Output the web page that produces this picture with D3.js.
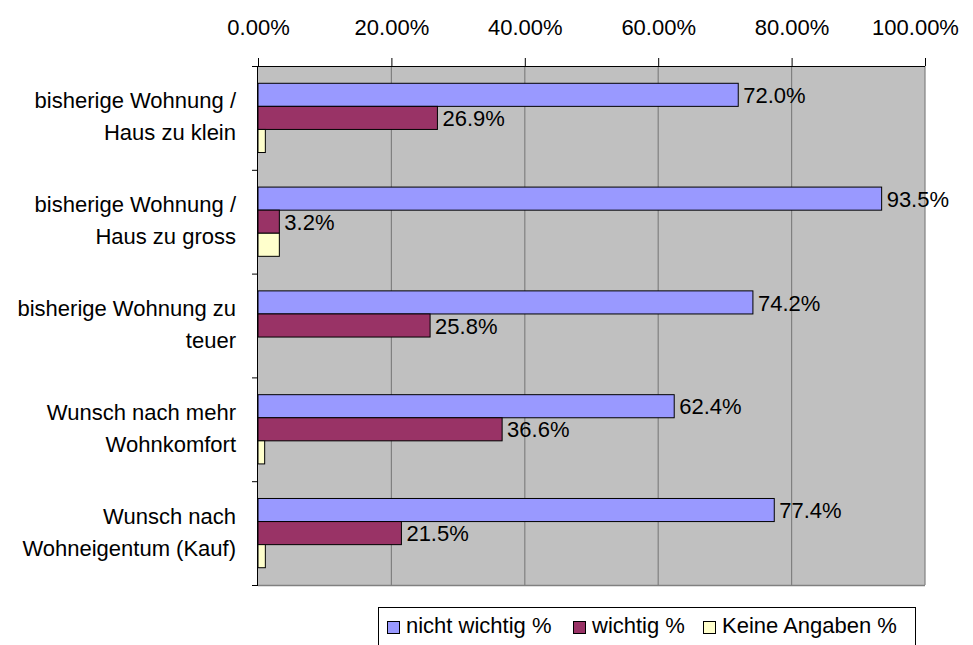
<!DOCTYPE html>
<html><head><meta charset="utf-8">
<script src="https://cdn.jsdelivr.net/npm/d3@7"></script>
<style>body{margin:0;background:#fff}svg{display:block}text{font-family:"Liberation Sans",Arial,sans-serif;fill:#000}</style>
</head><body>
<svg id="c" width="973" height="645"></svg>
<script>
const categories = [
  ["bisherige Wohnung /","Haus zu klein"],
  ["bisherige Wohnung /","Haus zu gross"],
  ["bisherige Wohnung zu","teuer"],
  ["Wunsch nach mehr","Wohnkomfort"],
  ["Wunsch nach","Wohneigentum (Kauf)"]
];
const seriesNames = ["nicht wichtig %","wichtig %","Keine Angaben %"];
const nichtWichtig = [72.0, 93.5, 74.2, 62.4, 77.4];
const wichtig = [26.9, 3.2, 25.8, 36.6, 21.5];
const keineAngaben = [1.1, 3.2, 0.0, 1.0, 1.1];
const tickValues = [0, 20, 40, 60, 80, 100];
const colors = ["#9999FF","#993366","#FFFFCC"];

const FS = 22;
const svg = d3.select("#c");
const L = 258, R = 925, T = 66, B = 585;
const x = d3.scaleLinear().domain([0,100]).range([L,R]);
const y = d3.scaleBand().domain(d3.range(categories.length)).range([T,B]).paddingInner(0.333).paddingOuter(0.1665);
const yIn = d3.scaleBand().domain([0,1,2]).range([0,y.bandwidth()]);

svg.append("rect").attr("x",L).attr("y",T).attr("width",R-L).attr("height",B-T).attr("fill","#C0C0C0");
svg.selectAll(".g").data(tickValues.slice(1)).join("line")
  .attr("x1",d=>x(d)).attr("x2",d=>x(d)).attr("y1",T).attr("y2",B)
  .attr("stroke","#808080").attr("stroke-width",1.2);
svg.append("line").attr("x1",L).attr("x2",R).attr("y1",B+0.5).attr("y2",B+0.5).attr("stroke","#808080").attr("stroke-width",1.5);

const series = [nichtWichtig, wichtig, keineAngaben];
series.forEach((vals,si)=>{
  svg.append("g").selectAll("rect").data(vals).join("rect")
    .attr("x",x(0)).attr("y",(d,i)=>y(i)+yIn(si))
    .attr("width",d=>x(d)-x(0)).attr("height",yIn.bandwidth())
    .attr("fill",colors[si]).attr("stroke","#000").attr("stroke-width",1)
    .attr("display",d=>d>0?null:"none");
  if(si<2){
    svg.append("g").selectAll("text").data(vals).join("text")
      .attr("x",d=>x(d)+5).attr("y",(d,i)=>y(i)+yIn(si)+yIn.bandwidth()/2)
      .attr("dy","0.37em").attr("font-size",FS).text(d=>d.toFixed(1)+"%");
  }
});

// top axis
const ax = d3.axisTop(x).tickValues(tickValues).tickFormat(d=>d.toFixed(2)+"%").tickSize(8).tickSizeOuter(0);
const axg = svg.append("g").attr("transform",`translate(0,${T})`).call(ax);
axg.select(".domain").attr("stroke","#000").attr("d",`M${L-6},0.5H${R}`);
axg.selectAll(".tick line").attr("stroke","#000");
axg.selectAll(".tick text").attr("font-size",FS).attr("font-family","Liberation Sans, Arial, sans-serif").attr("fill","#000").attr("y",-31).attr("dy",0)
  .attr("x",d=>d===100?-10:0);

// left axis
svg.append("line").attr("x1",L-0.5).attr("x2",L-0.5).attr("y1",T).attr("y2",B+1).attr("stroke","#000");
svg.selectAll(".dv").data(d3.range(categories.length+1)).join("line")
  .attr("x1",L-6).attr("x2",L).attr("y1",i=>T+i*(B-T)/categories.length+0.5).attr("y2",i=>T+i*(B-T)/categories.length+0.5)
  .attr("stroke","#000");

// category labels
categories.forEach((lines,i)=>{
  const cy = y(i)+y.bandwidth()/2 - 1.5;
  const t = svg.append("text").attr("text-anchor","end").attr("font-size",FS);
  lines.forEach((ln,j)=>{
    t.append("tspan").attr("x",236).attr("y",cy+(j-(lines.length-1)/2)*32).attr("dy","0.36em").text(ln);
  });
});

// legend
const lg = svg.append("g");
lg.append("rect").attr("x",378.5).attr("y",607.5).attr("width",537).attr("height",50).attr("fill","#fff").attr("stroke","#000");
const lx = [387, 573, 703];
seriesNames.forEach((n,i)=>{
  lg.append("rect").attr("x",lx[i]+0.5).attr("y",621.5).attr("width",12).attr("height",12).attr("fill",colors[i]).attr("stroke","#000");
  lg.append("text").attr("x",lx[i]+19).attr("y",633).attr("font-size",FS).text(n);
});
</script>
</body></html>
